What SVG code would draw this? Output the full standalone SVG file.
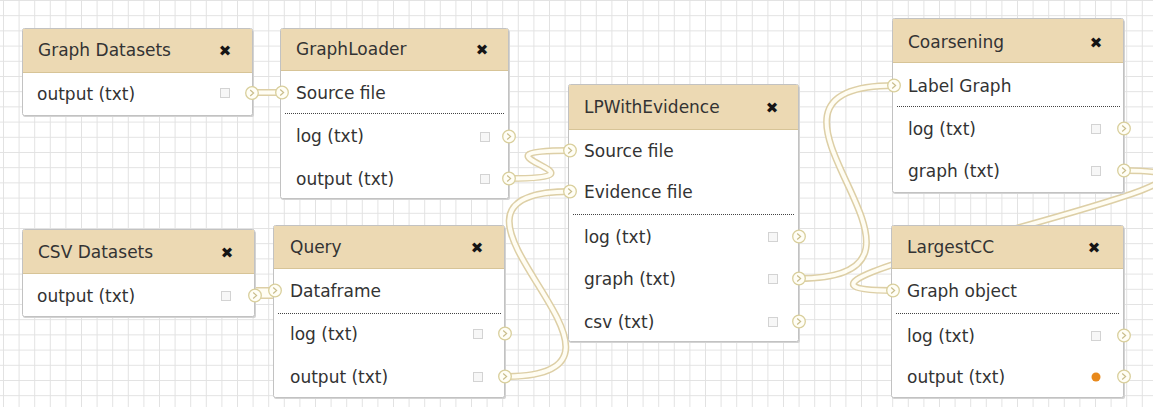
<svg xmlns="http://www.w3.org/2000/svg" width="1153" height="407" viewBox="0 0 1153 407">
  <defs>
    <!-- canvas grid -->
    <pattern id="grid" width="15.6" height="15.2" patternUnits="userSpaceOnUse" x="3" y="0">
      <path d="M0.5,0 V15.2 M0,0.5 H15.6" fill="none" stroke="#e2e2e2" stroke-width="1"/>
    </pattern>
    <!-- connection terminal -->
    <g id="term">
      <circle r="6.3" fill="#fffef6" stroke="#d9cf9c" stroke-width="1.3"/>
      <path d="M-1.8,-3 L1.6,0 L-1.8,3" fill="none" stroke="#c9bd8c" stroke-width="1.2"/>
    </g>
  </defs>
  <style>
    .body { fill: #ffffff; stroke: #c2c2c2; stroke-width: 1; }
    .shadow { fill: #d3d3d3; }
    .hdr { fill: #ecd9b3; }
    .hdr-line { stroke: #d7c497; stroke-width: 1; }
    .t { font-family: "DejaVu Sans", "Liberation Sans", sans-serif; font-size: 17px; fill: #333333; }
    .x { font-family: "DejaVu Sans", "Liberation Sans", sans-serif; font-size: 15px; font-weight: bold; fill: #151515; text-anchor: middle; }
    .sep { stroke: #444; stroke-width: 1; stroke-dasharray: 1 1; }
    .cb { fill: #f7f7f7; stroke: #d3d3d3; stroke-width: 1; }
    .wire-o { fill: none; stroke: #ddcfa6; stroke-width: 7; stroke-linecap: round; }
    .wire-i { fill: none; stroke: #fffdf3; stroke-width: 4; stroke-linecap: round; }
  </style>

  <rect width="1153" height="407" fill="#ffffff"/>
  <rect width="1153" height="407" fill="url(#grid)"/>

  <!-- connectors (drawn beneath the nodes) -->
  <g id="connectors">
    <g id="wire-outer">
      <path class="wire-o" d="M252,92.5 C352,92.5 182,92.5 282,92.5"/>
      <path class="wire-o" d="M509,178.5 C623,178.5 456,150.5 570,150.5"/>
      <path class="wire-o" d="M505,376.5 C685,376.5 390,191.5 570,191.5"/>
      <path class="wire-o" d="M255,295.5 C355,295.5 175,290.5 275,290.5"/>
      <path class="wire-o" d="M799,278.5 C984,278.5 709,85.5 894,85.5"/>
      <path class="wire-o" d="M1124,170.5 C1324,170.5 693,290.5 893,290.5"/>
    </g>
    <g id="wire-inner">
      <path class="wire-i" d="M252,92.5 C352,92.5 182,92.5 282,92.5"/>
      <path class="wire-i" d="M509,178.5 C623,178.5 456,150.5 570,150.5"/>
      <path class="wire-i" d="M505,376.5 C685,376.5 390,191.5 570,191.5"/>
      <path class="wire-i" d="M255,295.5 C355,295.5 175,290.5 275,290.5"/>
      <path class="wire-i" d="M799,278.5 C984,278.5 709,85.5 894,85.5"/>
      <path class="wire-i" d="M1124,170.5 C1324,170.5 693,290.5 893,290.5"/>
    </g>
  </g>

  <!-- Graph Datasets -->
  <g id="node-graph-datasets">
    <rect class="shadow" x="23" y="30" width="231" height="87" rx="2"/>
    <rect class="body" x="22.5" y="28.5" width="230" height="87" rx="2"/>
    <rect class="hdr" x="23" y="29" width="229" height="43"/>
    <line class="hdr-line" x1="23" y1="72.5" x2="252" y2="72.5"/>
    <text class="t" x="38" y="56">Graph Datasets</text>
    <text class="x" x="225" y="56">✖</text>
    <text class="t" x="37" y="100">output (txt)</text>
    <rect class="cb" x="220.5" y="88.5" width="9" height="9"/>
    <use href="#term" x="252" y="93"/>
  </g>

  <!-- GraphLoader -->
  <g id="node-graphloader">
    <rect class="shadow" x="281" y="30" width="229" height="170" rx="2"/>
    <rect class="body" x="280.5" y="28.5" width="228" height="170" rx="2"/>
    <rect class="hdr" x="281" y="29" width="227" height="41"/>
    <line class="hdr-line" x1="281" y1="70.5" x2="508" y2="70.5"/>
    <text class="t" x="296" y="55">GraphLoader</text>
    <text class="x" x="482" y="55">✖</text>
    <text class="t" x="296" y="99">Source file</text>
    <line class="sep" x1="285" y1="113.5" x2="505" y2="113.5"/>
    <text class="t" x="296" y="142">log (txt)</text>
    <text class="t" x="296" y="185">output (txt)</text>
    <rect class="cb" x="480.5" y="132.5" width="9" height="9"/>
    <rect class="cb" x="480.5" y="174.5" width="9" height="9"/>
    <use href="#term" x="282" y="92.5"/>
    <use href="#term" x="509" y="136.5"/>
    <use href="#term" x="509" y="178.5"/>
  </g>

  <!-- LPWithEvidence -->
  <g id="node-lpwithevidence">
    <rect class="shadow" x="569" y="86" width="231" height="257" rx="2"/>
    <rect class="body" x="568.5" y="84.5" width="230" height="257" rx="2"/>
    <rect class="hdr" x="569" y="85" width="229" height="44"/>
    <line class="hdr-line" x1="569" y1="129.5" x2="798" y2="129.5"/>
    <text class="t" x="584" y="113">LPWithEvidence</text>
    <text class="x" x="772" y="113">✖</text>
    <text class="t" x="584" y="157">Source file</text>
    <text class="t" x="584" y="198">Evidence file</text>
    <line class="sep" x1="573" y1="214.5" x2="795" y2="214.5"/>
    <text class="t" x="584" y="243">log (txt)</text>
    <text class="t" x="584" y="285">graph (txt)</text>
    <text class="t" x="584" y="328">csv (txt)</text>
    <rect class="cb" x="768.5" y="232.5" width="9" height="9"/>
    <rect class="cb" x="768.5" y="274.5" width="9" height="9"/>
    <rect class="cb" x="768.5" y="317.5" width="9" height="9"/>
    <use href="#term" x="570" y="150.5"/>
    <use href="#term" x="570" y="191.5"/>
    <use href="#term" x="799" y="236.5"/>
    <use href="#term" x="799" y="278.5"/>
    <use href="#term" x="799" y="321.5"/>
  </g>

  <!-- Coarsening -->
  <g id="node-coarsening">
    <rect class="shadow" x="893" y="20" width="232" height="174" rx="2"/>
    <rect class="body" x="892.5" y="18.5" width="231" height="174" rx="2"/>
    <rect class="hdr" x="893" y="19" width="230" height="43"/>
    <line class="hdr-line" x1="893" y1="62.5" x2="1123" y2="62.5"/>
    <text class="t" x="908" y="48">Coarsening</text>
    <text class="x" x="1096" y="48">✖</text>
    <text class="t" x="908" y="92">Label Graph</text>
    <line class="sep" x1="897" y1="106.5" x2="1120" y2="106.5"/>
    <text class="t" x="908" y="135">log (txt)</text>
    <text class="t" x="908" y="177">graph (txt)</text>
    <rect class="cb" x="1091.5" y="124.5" width="9" height="9"/>
    <rect class="cb" x="1091.5" y="166.5" width="9" height="9"/>
    <use href="#term" x="894" y="85.5"/>
    <use href="#term" x="1124" y="128.5"/>
    <use href="#term" x="1124" y="170.5"/>
  </g>

  <!-- CSV Datasets -->
  <g id="node-csv-datasets">
    <rect class="shadow" x="23" y="231" width="233" height="87" rx="2"/>
    <rect class="body" x="22.5" y="229.5" width="232" height="87" rx="2"/>
    <rect class="hdr" x="23" y="230" width="231" height="43"/>
    <line class="hdr-line" x1="23" y1="273.5" x2="254" y2="273.5"/>
    <text class="t" x="38" y="258">CSV Datasets</text>
    <text class="x" x="227" y="258">✖</text>
    <text class="t" x="37" y="302">output (txt)</text>
    <rect class="cb" x="221.5" y="291.5" width="9" height="9"/>
    <use href="#term" x="255" y="295.5"/>
  </g>

  <!-- Query -->
  <g id="node-query">
    <rect class="shadow" x="274" y="227" width="232" height="172" rx="2"/>
    <rect class="body" x="273.5" y="225.5" width="231" height="172" rx="2"/>
    <rect class="hdr" x="274" y="226" width="230" height="42"/>
    <line class="hdr-line" x1="274" y1="268.5" x2="504" y2="268.5"/>
    <text class="t" x="290" y="253">Query</text>
    <text class="x" x="477" y="253">✖</text>
    <text class="t" x="290" y="297">Dataframe</text>
    <line class="sep" x1="278" y1="313.5" x2="501" y2="313.5"/>
    <text class="t" x="290" y="340">log (txt)</text>
    <text class="t" x="290" y="383">output (txt)</text>
    <rect class="cb" x="473.5" y="329.5" width="9" height="9"/>
    <rect class="cb" x="473.5" y="372.5" width="9" height="9"/>
    <use href="#term" x="275" y="290.5"/>
    <use href="#term" x="505" y="333.5"/>
    <use href="#term" x="505" y="376.5"/>
  </g>

  <!-- LargestCC -->
  <g id="node-largestcc">
    <rect class="shadow" x="892" y="227" width="233" height="172" rx="2"/>
    <rect class="body" x="891.5" y="225.5" width="232" height="172" rx="2"/>
    <rect class="hdr" x="892" y="226" width="231" height="42"/>
    <line class="hdr-line" x1="892" y1="268.5" x2="1123" y2="268.5"/>
    <text class="t" x="907" y="253">LargestCC</text>
    <text class="x" x="1094" y="253">✖</text>
    <text class="t" x="907" y="297">Graph object</text>
    <line class="sep" x1="896" y1="313.5" x2="1120" y2="313.5"/>
    <text class="t" x="907" y="342">log (txt)</text>
    <text class="t" x="907" y="383">output (txt)</text>
    <rect class="cb" x="1091.5" y="331.5" width="9" height="9"/>
    <circle cx="1096" cy="377" r="4.5" fill="#e8891c"/>
    <use href="#term" x="893" y="290.5"/>
    <use href="#term" x="1124" y="335.5"/>
    <use href="#term" x="1124" y="376.5"/>
  </g>
</svg>
